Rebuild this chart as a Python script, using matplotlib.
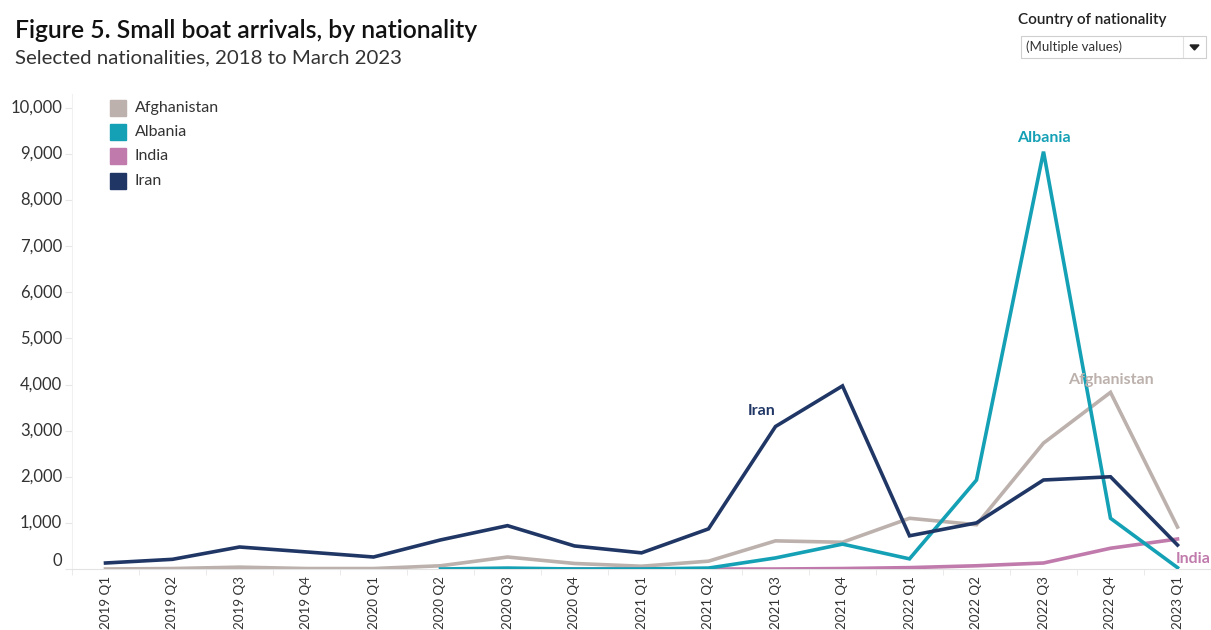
import numpy as np
import matplotlib.pyplot as plt
from matplotlib.patches import Rectangle, Polygon

plt.rcParams['font.family'] = ['Lato', 'DejaVu Sans']

quarters = ['2019 Q1', '2019 Q2', '2019 Q3', '2019 Q4',
            '2020 Q1', '2020 Q2', '2020 Q3', '2020 Q4',
            '2021 Q1', '2021 Q2', '2021 Q3', '2021 Q4',
            '2022 Q1', '2022 Q2', '2022 Q3', '2022 Q4',
            '2023 Q1']
nan = np.nan
afghanistan = [0, 10, 40, 10, 10, 70, 260, 120, 60, 170, 610, 580, 1100, 960, 2730, 3830, 910]
albania = [nan, nan, nan, nan, nan, 0, 20, 0, 0, 20, 240, 540, 220, 1930, 9050, 1100, 30]
india = [nan, nan, nan, nan, nan, nan, 0, 0, 0, 0, 0, 10, 30, 70, 130, 450, 650]
iran = [130, 210, 477, 370, 260, 630, 940, 500, 350, 870, 3090, 3970, 720, 1000, 1930, 2000, 520]

countries = ['Afghanistan', 'Albania', 'India', 'Iran']
colors = {'Afghanistan': '#bcb1ac', 'Albania': '#14a0b5', 'India': '#c07aab', 'Iran': '#203766'}
series = {'Afghanistan': afghanistan, 'Albania': albania, 'India': india, 'Iran': iran}
yticks = list(range(0, 10001, 1000))

W, H = 1211, 630
fig = plt.figure(figsize=(W / 100, H / 100), dpi=100)
ax = fig.add_axes([72 / W, (H - 569) / H, 1139 / W, 475 / H])

x = np.arange(len(quarters))
for name in ['Afghanistan', 'India', 'Albania', 'Iran']:
    ax.plot(x, series[name], color=colors[name], lw=2.6, solid_joinstyle='miter', zorder=3)

ax.set_xlim(-0.5, len(quarters) - 0.5)
ax.set_ylim(0, 10300)

# x axis: labels at quarter centres, little ticks between quarters
ax.set_xticks(x)
ax.set_xticklabels(quarters, rotation=90, fontsize=9.6, color='#333333')
ax.set_xticks(np.arange(-0.5, len(quarters)), minor=True)
ax.tick_params(axis='x', which='major', length=0, pad=5)
ax.tick_params(axis='x', which='minor', length=4, color='#e6e6e6')

# y axis labels drawn by hand so the zero label can sit inside the pane
ax.set_yticks(yticks)
ax.set_yticklabels([])
ax.tick_params(axis='y', length=5, color='#e6e6e6')
for v in yticks:
    ax.text(-0.0085, v, f'{v:,}', transform=ax.get_yaxis_transform(),
            ha='right', va='bottom' if v == 0 else 'center',
            fontsize=12, color='#333333')

for side in ['top', 'right']:
    ax.spines[side].set_visible(False)
ax.spines['left'].set_color('#f0f0f0')
ax.spines['bottom'].set_color('#e3e3e3')

# line-end labels
ax.annotate('Albania', (14, 9050), xytext=(0, 5), textcoords='offset points',
            color=colors['Albania'], fontsize=11.5, fontweight='bold', ha='center', va='bottom')
ax.annotate('Afghanistan', (15, 3830), xytext=(0, 4), textcoords='offset points',
            color=colors['Afghanistan'], fontsize=11.5, fontweight='bold', ha='center', va='bottom')
ax.annotate('Iran', (10, 3090), xytext=(0, 6), textcoords='offset points',
            color=colors['Iran'], fontsize=11.5, fontweight='bold', ha='right', va='bottom')
ax.annotate('India', (16, 0), xytext=(11, 2), textcoords='offset points',
            color=colors['India'], fontsize=11.5, fontweight='bold', ha='center', va='bottom')

# legend swatches
for i, name in enumerate(countries):
    yy = 108 + i * 24.2
    fig.patches.append(Rectangle((110 / W, 1 - (yy + 8) / H), 16 / W, 16 / H,
                                 transform=fig.transFigure, color=colors[name]))
    fig.text(135 / W, 1 - yy / H, name, fontsize=11.5, color='#333333', va='center')

# titles
fig.text(15 / W, 1 - 30 / H, 'Figure 5. Small boat arrivals, by nationality',
         fontsize=17.8, fontweight='semibold', color='#111111', va='center')
fig.text(15 / W, 1 - 58 / H, 'Selected nationalities, 2018 to March 2023',
         fontsize=14.7, color='#333333', va='center')

# filter box
fig.text(1018 / W, 1 - 20 / H, 'Country of nationality', fontsize=11,
         fontweight='semibold', color='#222222', va='center')
fig.patches.append(Rectangle((1021 / W, 1 - 58 / H), 185 / W, 22 / H, transform=fig.transFigure,
                             facecolor='white', edgecolor='#cfcfcf', lw=0.8))
fig.lines.append(plt.Line2D([1183 / W, 1183 / W], [1 - 57 / H, 1 - 37 / H],
                            transform=fig.transFigure, color='#e0e0e0', lw=0.8))
fig.patches.append(Polygon([(1190 / W, 1 - 45 / H), (1199 / W, 1 - 45 / H), (1194.5 / W, 1 - 50 / H)],
                           closed=True, transform=fig.transFigure, color='#222222'))
fig.text(1026 / W, 1 - 47 / H, '(Multiple values)', fontsize=9.5, color='#333333', va='center')

fig.savefig('out.png', dpi=100)
